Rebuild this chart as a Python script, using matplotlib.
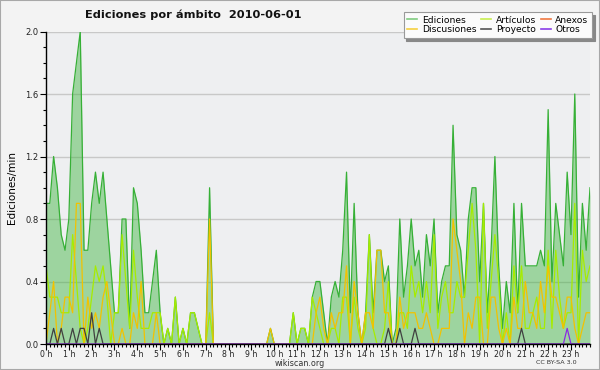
import matplotlib
matplotlib.use("Agg")
import matplotlib.pyplot as plt
from matplotlib.lines import Line2D
from matplotlib.patches import Rectangle
from matplotlib.ticker import MultipleLocator, FixedLocator

# 10-minute slots, 0..143 (minutes = slot*10)
minutes = [i * 10 for i in range(144)]
hour_labels = [f"{h} h" for h in range(24)]

ediciones = [
    0.9, 0.9, 1.2, 1.0, 0.7, 0.6, 0.8, 1.6, 1.8, 2.0, 0.6, 0.6, 0.9, 1.1, 0.9, 1.1, 0.8, 0.5, 0.2, 0.2, 0.8, 0.8, 0.1, 1.0,
    0.9, 0.6, 0.2, 0.2, 0.4, 0.6, 0.2, 0.0, 0.1, 0.0, 0.3, 0.0, 0.1, 0.0, 0.2, 0.2, 0.1, 0.0, 0.0, 1.0, 0.0, 0.0, 0.0, 0.0,
    0.0, 0.0, 0.0, 0.0, 0.0, 0.0, 0.0, 0.0, 0.0, 0.0, 0.0, 0.1, 0.0, 0.0, 0.0, 0.0, 0.0, 0.2, 0.0, 0.1, 0.1, 0.0, 0.3, 0.4,
    0.4, 0.2, 0.0, 0.3, 0.4, 0.3, 0.6, 1.1, 0.2, 0.9, 0.2, 0.0, 0.2, 0.7, 0.2, 0.6, 0.6, 0.4, 0.5, 0.0, 0.1, 0.8, 0.3, 0.5,
    0.8, 0.5, 0.6, 0.3, 0.7, 0.5, 0.8, 0.2, 0.4, 0.5, 0.5, 1.4, 0.7, 0.6, 0.3, 0.8, 1.0, 1.0, 0.4, 0.9, 0.2, 0.6, 1.2, 0.5,
    0.1, 0.4, 0.2, 0.9, 0.2, 0.9, 0.5, 0.5, 0.5, 0.5, 0.6, 0.5, 1.5, 0.4, 0.9, 0.7, 0.5, 1.1, 0.7, 1.6, 0.3, 0.9, 0.6, 1.0,
]

articulos = [
    0.5, 0.3, 0.3, 0.3, 0.2, 0.2, 0.2, 0.7, 0.4, 0.1, 0.0, 0.1, 0.3, 0.5, 0.4, 0.5, 0.3, 0.0, 0.2, 0.2, 0.7, 0.4, 0.1, 0.6,
    0.3, 0.1, 0.1, 0.1, 0.2, 0.2, 0.2, 0.0, 0.1, 0.0, 0.3, 0.0, 0.1, 0.0, 0.2, 0.2, 0.1, 0.0, 0.0, 0.2, 0.0, 0.0, 0.0, 0.0,
    0.0, 0.0, 0.0, 0.0, 0.0, 0.0, 0.0, 0.0, 0.0, 0.0, 0.0, 0.0, 0.0, 0.0, 0.0, 0.0, 0.0, 0.2, 0.0, 0.1, 0.1, 0.0, 0.3, 0.2,
    0.1, 0.0, 0.0, 0.1, 0.1, 0.0, 0.3, 0.3, 0.0, 0.3, 0.1, 0.0, 0.1, 0.7, 0.1, 0.0, 0.0, 0.1, 0.4, 0.0, 0.0, 0.2, 0.2, 0.1,
    0.5, 0.3, 0.4, 0.2, 0.4, 0.2, 0.7, 0.1, 0.3, 0.4, 0.2, 0.2, 0.4, 0.3, 0.3, 0.6, 0.9, 0.6, 0.0, 0.9, 0.1, 0.4, 0.7, 0.4,
    0.0, 0.2, 0.0, 0.5, 0.2, 0.5, 0.1, 0.1, 0.2, 0.3, 0.1, 0.1, 0.6, 0.1, 0.6, 0.3, 0.1, 0.2, 0.2, 0.9, 0.0, 0.6, 0.4, 0.5,
]

discusiones = [
    0.0, 0.2, 0.4, 0.0, 0.1, 0.3, 0.3, 0.2, 0.9, 0.9, 0.0, 0.3, 0.1, 0.2, 0.1, 0.3, 0.4, 0.2, 0.0, 0.0, 0.1, 0.0, 0.0, 0.2,
    0.1, 0.4, 0.0, 0.0, 0.0, 0.2, 0.0, 0.0, 0.0, 0.0, 0.0, 0.0, 0.0, 0.0, 0.0, 0.0, 0.0, 0.0, 0.0, 0.8, 0.0, 0.0, 0.0, 0.0,
    0.0, 0.0, 0.0, 0.0, 0.0, 0.0, 0.0, 0.0, 0.0, 0.0, 0.0, 0.1, 0.0, 0.0, 0.0, 0.0, 0.0, 0.0, 0.0, 0.0, 0.0, 0.0, 0.0, 0.2,
    0.3, 0.1, 0.0, 0.2, 0.1, 0.2, 0.2, 0.5, 0.0, 0.4, 0.2, 0.0, 0.2, 0.2, 0.1, 0.6, 0.6, 0.2, 0.2, 0.0, 0.0, 0.3, 0.1, 0.2,
    0.2, 0.2, 0.1, 0.1, 0.2, 0.1, 0.0, 0.0, 0.1, 0.1, 0.1, 0.8, 0.6, 0.4, 0.0, 0.2, 0.1, 0.3, 0.3, 0.0, 0.0, 0.3, 0.3, 0.1,
    0.0, 0.1, 0.0, 0.3, 0.1, 0.1, 0.4, 0.2, 0.2, 0.1, 0.4, 0.2, 0.5, 0.3, 0.3, 0.2, 0.1, 0.3, 0.3, 0.1, 0.0, 0.1, 0.2, 0.2,
]

proyecto = [
    0.0, 0.0, 0.1, 0.0, 0.1, 0.0, 0.0, 0.1, 0.0, 0.1, 0.1, 0.0, 0.2, 0.0, 0.1, 0.0, 0.0, 0.0, 0.0, 0.0, 0.0, 0.0, 0.0, 0.0,
    0.0, 0.0, 0.0, 0.0, 0.0, 0.0, 0.0, 0.0, 0.0, 0.0, 0.0, 0.0, 0.0, 0.0, 0.0, 0.0, 0.0, 0.0, 0.0, 0.0, 0.0, 0.0, 0.0, 0.0,
    0.0, 0.0, 0.0, 0.0, 0.0, 0.0, 0.0, 0.0, 0.0, 0.0, 0.0, 0.0, 0.0, 0.0, 0.0, 0.0, 0.0, 0.0, 0.0, 0.0, 0.0, 0.0, 0.0, 0.0,
    0.0, 0.0, 0.0, 0.0, 0.0, 0.0, 0.0, 0.0, 0.0, 0.0, 0.0, 0.0, 0.0, 0.0, 0.0, 0.0, 0.0, 0.0, 0.1, 0.0, 0.0, 0.1, 0.0, 0.0,
    0.0, 0.1, 0.0, 0.0, 0.0, 0.0, 0.0, 0.0, 0.0, 0.0, 0.0, 0.0, 0.0, 0.0, 0.0, 0.0, 0.0, 0.0, 0.0, 0.0, 0.0, 0.0, 0.0, 0.0,
    0.0, 0.0, 0.0, 0.0, 0.0, 0.1, 0.0, 0.0, 0.0, 0.0, 0.0, 0.0, 0.0, 0.0, 0.0, 0.0, 0.0, 0.0, 0.0, 0.0, 0.0, 0.0, 0.0, 0.0,
]

anexos = [
    0.0, 0.0, 0.0, 0.0, 0.0, 0.0, 0.0, 0.0, 0.0, 0.0, 0.0, 0.0, 0.0, 0.0, 0.0, 0.0, 0.0, 0.0, 0.0, 0.0, 0.0, 0.0, 0.0, 0.0,
    0.0, 0.0, 0.0, 0.0, 0.0, 0.0, 0.0, 0.0, 0.0, 0.0, 0.0, 0.0, 0.0, 0.0, 0.0, 0.0, 0.0, 0.0, 0.0, 0.0, 0.0, 0.0, 0.0, 0.0,
    0.0, 0.0, 0.0, 0.0, 0.0, 0.0, 0.0, 0.0, 0.0, 0.0, 0.0, 0.0, 0.0, 0.0, 0.0, 0.0, 0.0, 0.0, 0.0, 0.0, 0.0, 0.0, 0.0, 0.0,
    0.0, 0.0, 0.0, 0.0, 0.0, 0.0, 0.0, 0.0, 0.0, 0.0, 0.0, 0.0, 0.0, 0.0, 0.0, 0.0, 0.0, 0.0, 0.0, 0.0, 0.0, 0.0, 0.0, 0.0,
    0.0, 0.0, 0.0, 0.0, 0.0, 0.0, 0.0, 0.0, 0.0, 0.0, 0.0, 0.0, 0.0, 0.0, 0.0, 0.0, 0.0, 0.0, 0.0, 0.0, 0.0, 0.0, 0.0, 0.0,
    0.0, 0.0, 0.0, 0.0, 0.0, 0.0, 0.0, 0.0, 0.0, 0.0, 0.0, 0.0, 0.0, 0.0, 0.0, 0.0, 0.0, 0.0, 0.0, 0.0, 0.0, 0.0, 0.0, 0.0,
]

otros = [
    0.0, 0.0, 0.0, 0.0, 0.0, 0.0, 0.0, 0.0, 0.0, 0.0, 0.0, 0.0, 0.0, 0.0, 0.0, 0.0, 0.0, 0.0, 0.0, 0.0, 0.0, 0.0, 0.0, 0.0,
    0.0, 0.0, 0.0, 0.0, 0.0, 0.0, 0.0, 0.0, 0.0, 0.0, 0.0, 0.0, 0.0, 0.0, 0.0, 0.0, 0.0, 0.0, 0.0, 0.0, 0.0, 0.0, 0.0, 0.0,
    0.0, 0.0, 0.0, 0.0, 0.0, 0.0, 0.0, 0.0, 0.0, 0.0, 0.0, 0.0, 0.0, 0.0, 0.0, 0.0, 0.0, 0.0, 0.0, 0.0, 0.0, 0.0, 0.0, 0.0,
    0.0, 0.0, 0.0, 0.0, 0.0, 0.0, 0.0, 0.0, 0.0, 0.0, 0.0, 0.0, 0.0, 0.0, 0.0, 0.0, 0.0, 0.0, 0.0, 0.0, 0.0, 0.0, 0.0, 0.0,
    0.0, 0.0, 0.0, 0.0, 0.0, 0.0, 0.0, 0.0, 0.0, 0.0, 0.0, 0.0, 0.0, 0.0, 0.0, 0.0, 0.0, 0.0, 0.0, 0.0, 0.0, 0.0, 0.0, 0.0,
    0.0, 0.0, 0.0, 0.0, 0.0, 0.0, 0.0, 0.0, 0.0, 0.0, 0.0, 0.0, 0.0, 0.0, 0.0, 0.0, 0.0, 0.1, 0.0, 0.0, 0.0, 0.0, 0.0, 0.0,
]

legend_labels = ["Ediciones", "Discusiones", "Artículos", "Proyecto", "Anexos", "Otros"]
y_ticks = [0.0, 0.4, 0.8, 1.2, 1.6, 2.0]

W, H = 600, 370
fig = plt.figure(figsize=(6, 3.7), dpi=100, facecolor="#f3f3f3")
ax = fig.add_axes([46 / W, 1 - 344 / H, (590 - 46) / W, (344 - 31.5) / H])
ax.set_facecolor("#eeeff1")

fig.patches.append(Rectangle((0, 0), 1, 1, transform=fig.transFigure, fill=False,
                             edgecolor="#a8a8a8", linewidth=1.5, zorder=0))

ax.fill_between(minutes, ediciones, 0, color="#3cb43c", alpha=0.45, linewidth=0, zorder=1)
ax.plot(minutes, ediciones, color="#36b036", lw=0.9, zorder=3)
ax.plot(minutes, articulos, color="#a6ec00", lw=0.9, zorder=4)
ax.plot(minutes, discusiones, color="#f2c200", lw=0.9, zorder=4)
ax.plot(minutes, anexos, color="#f08040", lw=0.9, zorder=4)
ax.plot(minutes, proyecto, color="#404040", lw=0.9, zorder=5)
ax.plot(minutes, otros, color="#8a2be2", lw=0.9, zorder=5)

ax.set_xlim(0, 1430)
ax.set_ylim(0, 2.0)

ax.set_yticks(y_ticks)
ax.set_yticklabels([f"{v:.1f}" for v in y_ticks])
ax.yaxis.set_minor_locator(MultipleLocator(0.1))
ax.grid(axis="y", which="major", color="#c8c8c8", lw=1.0, zorder=0)
ax.set_axisbelow(True)

ax.xaxis.set_major_locator(FixedLocator([h * 60 for h in range(24)]))
ax.xaxis.set_minor_locator(MultipleLocator(10))
ax.set_xticklabels(hour_labels)

ax.tick_params(axis="both", which="major", direction="out", length=4, width=0.8,
               labelsize=6, color="black", labelcolor="#222222", pad=1.5)
ax.tick_params(axis="x", which="major", labelsize=5.6, pad=0.5)
ax.tick_params(axis="both", which="minor", direction="out", length=2.5, width=0.8, color="black")

for s in ["top", "right"]:
    ax.spines[s].set_visible(False)
for s in ["left", "bottom"]:
    ax.spines[s].set_color("black")
    ax.spines[s].set_linewidth(1.0)
    ax.spines[s].set_zorder(6)

ax.set_ylabel("Ediciones/min", fontsize=7.5, labelpad=6)

fig.text(85 / W, 1 - 15 / H, "Ediciones por ámbito  2010-06-01", fontsize=8.2,
         fontweight="bold", ha="left", va="center", color="#111111")
fig.text(300 / W, 1 - 363 / H, "wikiscan.org", fontsize=5.8, ha="center", va="center", color="#333333")
fig.text(556 / W, 1 - 363 / H, "CC BY-SA 3.0", fontsize=4.6, ha="center", va="center", color="#333333")

handles = [
    Line2D([], [], color="#80cc80", lw=1.2),
    Line2D([], [], color="#f5d040", lw=1.2),
    Line2D([], [], color="#c8ee50", lw=1.2),
    Line2D([], [], color="#555555", lw=1.2),
    Line2D([], [], color="#f07840", lw=1.2),
    Line2D([], [], color="#8a3ee8", lw=1.2),
]
leg = fig.legend(handles, legend_labels, ncol=3, loc="upper right",
                 bbox_to_anchor=(592 / W, 1 - 12 / H), fontsize=6.6,
                 frameon=True, fancybox=False, shadow={"color": "#888888", "alpha": 1.0},
                 handlelength=1.1, handletextpad=0.5, columnspacing=0.5,
                 labelspacing=0.05, borderpad=0.4, borderaxespad=0)
leg.get_frame().set_facecolor("#fbfbfb")
leg.get_frame().set_edgecolor("#999999")
leg.get_frame().set_linewidth(0.8)

fig.savefig("out.png", dpi=100, facecolor=fig.get_facecolor())
